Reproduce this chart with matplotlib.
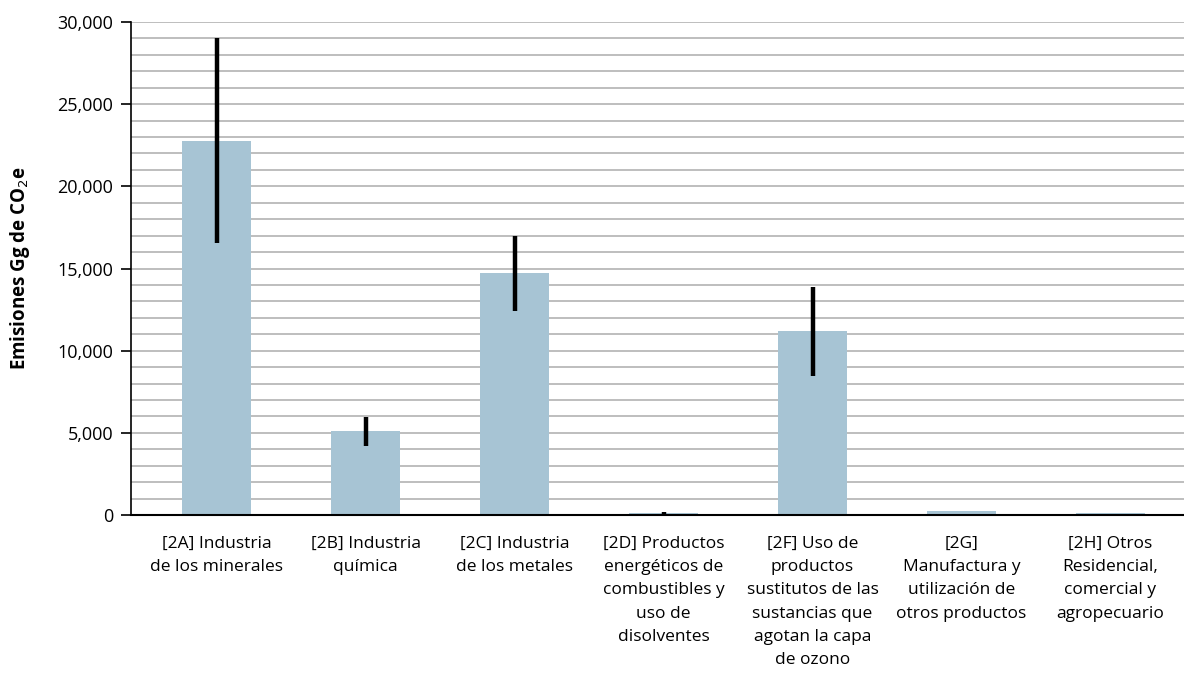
import numpy as np
import matplotlib.pyplot as plt
from matplotlib.ticker import MultipleLocator, FuncFormatter

categories = ['[2A] Industria\nde los minerales',
              '[2B] Industria\nquímica',
              '[2C] Industria\nde los metales',
              '[2D] Productos\nenergéticos de\ncombustibles y\nuso de\ndisolventes',
              '[2F] Uso de\nproductos\nsustitutos de las\nsustancias que\nagotan la capa\nde ozono',
              '[2G]\nManufactura y\nutilización de\notros productos',
              '[2H] Otros\nResidencial,\ncomercial y\nagropecuario']
values = [22750, 5100, 14730, 130, 11200, 260, 150]
err_low = [16550, 4200, 12420, 60, 8460, 260, 150]
err_high = [29000, 5960, 16980, 200, 13880, 260, 150]

plt.rcParams['font.family'] = ['Open Sans', 'DejaVu Sans']

fig = plt.figure(figsize=(11.84, 6.85), dpi=100)
ax = fig.add_axes([131 / 1184, 0.248, 1053 / 1184, 0.72])

x = np.arange(len(categories))
ax.bar(x, values, width=0.463, color='#a7c4d4', zorder=2)

show = [i for i in range(len(values)) if err_high[i] > err_low[i]]
ax.vlines([x[i] for i in show], [err_low[i] for i in show],
          [err_high[i] for i in show], color='black', linewidth=3.2, zorder=3)

ax.set_xlim(-0.574, 6.493)
ax.set_ylim(0, 30000)
ax.yaxis.set_major_locator(MultipleLocator(5000))
ax.yaxis.set_minor_locator(MultipleLocator(1000))
ax.yaxis.set_major_formatter(FuncFormatter(lambda v, p: f'{int(v):,}'))
ax.grid(axis='y', which='both', color='#b3b3b3', linewidth=1.2, zorder=0)
ax.tick_params(axis='y', which='major', length=7, width=1.2, labelsize=13, pad=6)
ax.tick_params(axis='y', which='minor', length=0)
ax.tick_params(axis='x', length=0, pad=15)
ax.set_xticks(x)
ax.set_xticklabels(categories, fontsize=12.5, linespacing=1.6)

for s in ['top', 'right']:
    ax.spines[s].set_visible(False)
ax.spines['left'].set_linewidth(1.2)
ax.spines['bottom'].set_linewidth(1.5)
ax.spines['left'].set_zorder(4)
ax.spines['bottom'].set_zorder(4)

ax.set_ylabel('Emisiones Gg de CO$_2$e', fontsize=13.5, fontweight='bold', labelpad=18)

fig.savefig('out.png', dpi=100)
